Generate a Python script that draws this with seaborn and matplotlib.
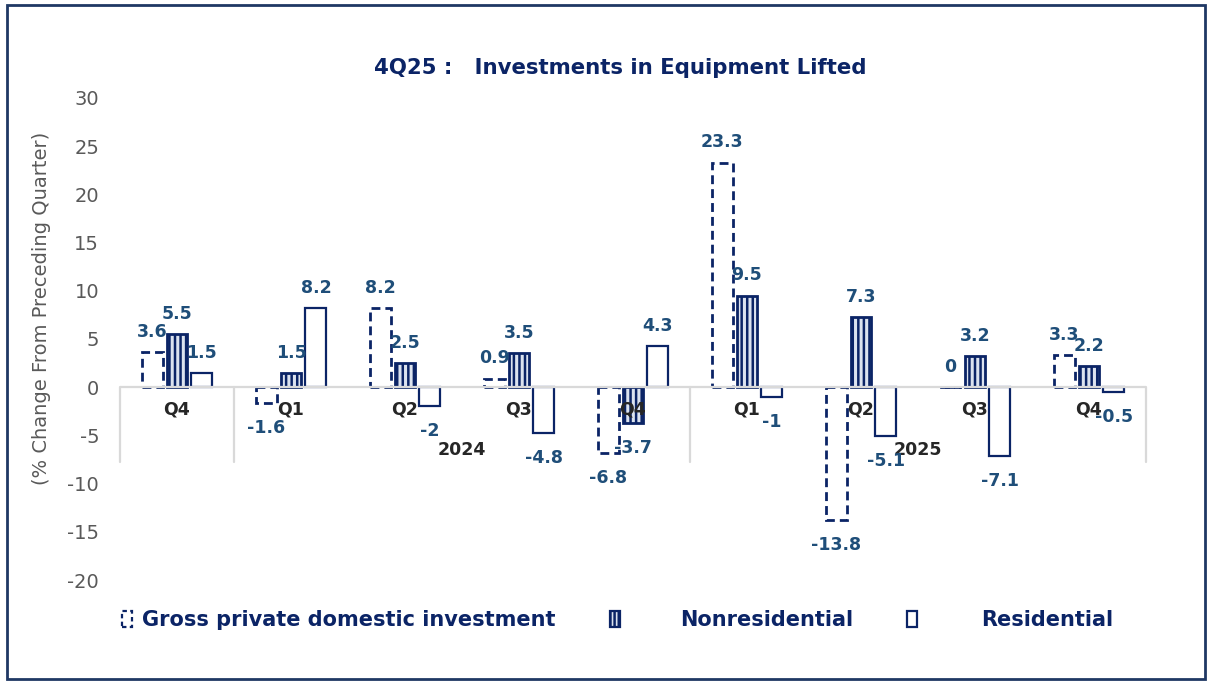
import matplotlib
matplotlib.use("Agg")
import matplotlib.pyplot as plt
import matplotlib.transforms as mtransforms
from matplotlib.patches import Patch, Rectangle
import seaborn as sns
import pandas as pd

# ---- data ----
periods = ["2023Q4", "2024Q1", "2024Q2", "2024Q3", "2024Q4",
           "2025Q1", "2025Q2", "2025Q3", "2025Q4"]
quarter_labels = ["Q4", "Q1", "Q2", "Q3", "Q4", "Q1", "Q2", "Q3", "Q4"]
year_groups = [("2024", 1, 4), ("2025", 5, 8)]
series_names = ["Gross private domestic investment", "Nonresidential", "Residential"]
gross = [3.6, -1.6, 8.2, 0.9, -6.8, 23.3, -13.8, 0, 3.3]
nonres = [5.5, 1.5, 2.5, 3.5, -3.7, 9.5, 7.3, 3.2, 2.2]
resid = [1.5, 8.2, -2, -4.8, 4.3, -1, -5.1, -7.1, -0.5]
title = "4Q25 :   Investments in Equipment Lifted"
ylabel = "(% Change From Preceding Quarter)"

df = pd.DataFrame({
    "period": periods * 3,
    "series": [series_names[0]] * 9 + [series_names[1]] * 9 + [series_names[2]] * 9,
    "value": gross + nonres + resid,
})

NAVY = "#0B2466"
LABEL = "#1F4E79"
GRID = "#D9D9D9"
STRIPE_FILL = "#DCE3EF"

sns.set_theme(style="white")
plt.rcParams["font.family"] = ["DejaVu Sans"]
plt.rcParams["axes.unicode_minus"] = False
plt.rcParams["hatch.linewidth"] = 1.8

fig = plt.figure(figsize=(12.09, 6.85), dpi=100)
ax = fig.add_axes([120 / 1209, 1 - 580 / 685, 1026 / 1209, 482 / 685])

sns.barplot(data=df, x="period", y="value", hue="series", order=periods,
            hue_order=series_names, width=0.656, gap=0.16, ax=ax,
            legend=False, errorbar=None)

styles = [
    dict(facecolor="white", edgecolor=NAVY, linestyle=(0, (3.2, 1.8)), linewidth=2.0, hatch=None),
    dict(facecolor=STRIPE_FILL, edgecolor=NAVY, linestyle="-", linewidth=2.0, hatch="|||"),
    dict(facecolor="white", edgecolor=NAVY, linestyle="-", linewidth=1.6, hatch=None),
]
for cont, st in zip(ax.containers, styles):
    for bar in cont:
        bar.set_facecolor(st["facecolor"])
        bar.set_edgecolor(st["edgecolor"])
        bar.set_linestyle(st["linestyle"])
        bar.set_linewidth(st["linewidth"])
        if st["hatch"]:
            bar.set_hatch(st["hatch"])
        bar.set_zorder(2)

# data labels
for cont in ax.containers:
    for bar, v in zip(cont, cont.datavalues):
        xc = bar.get_x() + bar.get_width() / 2
        dy = 14.5 if v >= 0 else -18
        ax.annotate(f"{v:g}", (xc, v), xytext=(0, dy), textcoords="offset points",
                    ha="center", va="center", fontsize=12.5, fontweight="bold",
                    color=LABEL, zorder=6)

ax.set_xlim(-0.5, len(periods) - 0.5)
ax.set_ylim(-20, 30)
ax.set_yticks(range(-20, 31, 5))
ax.tick_params(axis="y", length=0, pad=15, labelsize=14, labelcolor="#595959")
ax.set_xticks([])
ax.set_xlabel("")
ax.set_ylabel(ylabel, fontsize=14, color="#595959")
ax.yaxis.set_label_coords(-0.067, 0.564)
for s in ax.spines.values():
    s.set_visible(False)

# zero line
ax.axhline(0, color=GRID, lw=1.6, zorder=4)

# category axis (two-level)
trans = mtransforms.blended_transform_factory(ax.transData, ax.transAxes)
zero_frac = (0 - (-20)) / 50
for i, q in enumerate(quarter_labels):
    ax.text(i, 0.353, q, transform=trans, ha="center", va="center",
            fontsize=12.5, fontweight="bold", color="#262626", zorder=5)
for yr, a, b in year_groups:
    ax.text((a + b) / 2, 0.270, yr, transform=trans, ha="center", va="center",
            fontsize=12.5, fontweight="bold", color="#262626", zorder=5)
for xs in [-0.5, 0.5, 4.5, len(periods) - 0.5]:
    ax.plot([xs, xs], [zero_frac, 0.245], transform=trans, color=GRID, lw=1.6,
            zorder=1, clip_on=False)

# title
fig.text(620 / 1209, 1 - 68 / 685, title, ha="center", va="center",
         fontsize=15.3, fontweight="bold", color=NAVY)

# legend (three entries placed like the original)
handles = [
    Patch(facecolor="white", edgecolor=NAVY, linestyle=(0, (2, 1.5)), linewidth=1.6),
    Patch(facecolor=STRIPE_FILL, edgecolor=NAVY, linewidth=1.6, hatch="||||"),
    Patch(facecolor="white", edgecolor=NAVY, linewidth=1.6),
]
leg_x = [122, 610, 907]
leg_pad = [0.45, 2.85, 3.05]
for h, name, lx, pad in zip(handles, series_names, leg_x, leg_pad):
    lg = fig.legend([h], [name], loc="center left",
                    bbox_to_anchor=(lx / 1209, 1 - 620 / 685),
                    frameon=False, handlelength=0.5, handleheight=0.8,
                    handletextpad=pad, borderpad=0, borderaxespad=0,
                    prop=dict(size=15, weight="bold"))
    for t in lg.get_texts():
        t.set_color(NAVY)

# outer border
fig.add_artist(Rectangle((7 / 1209, 1 - 679 / 685), 1198 / 1209, 674 / 685,
                         transform=fig.transFigure, fill=False, edgecolor="#1F3864", lw=2))

fig.savefig("out.png", dpi=100)
